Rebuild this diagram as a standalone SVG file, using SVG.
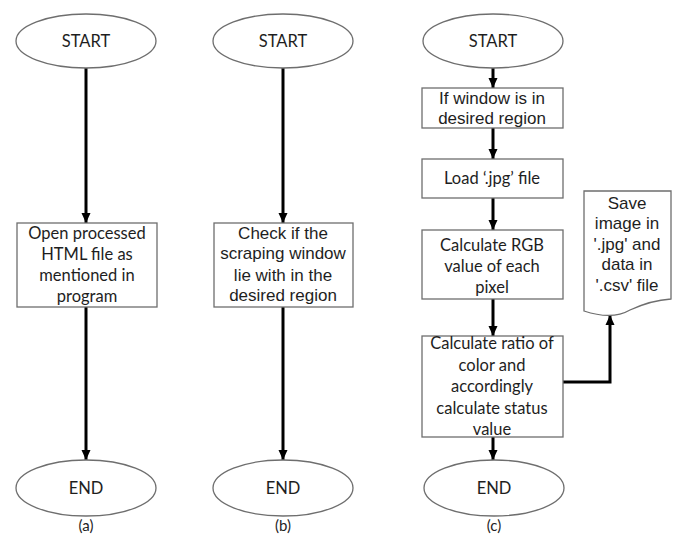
<svg xmlns="http://www.w3.org/2000/svg" width="676" height="536" viewBox="0 0 676 536">
<style>
.shape{fill:#fff;stroke:#6e6e6e;stroke-width:1.3}
.conn{fill:none;stroke:#000;stroke-width:3}
.t{font-family:Lato,"Open Sans",sans-serif;font-size:16.5px;fill:#1e1e1e;text-anchor:middle}
.ta{font-family:"Liberation Sans",Arial,sans-serif;font-size:17px;fill:#1e1e1e;text-anchor:middle}
.lab{font-family:Lato,"Open Sans",sans-serif;font-size:15px;fill:#1e1e1e;text-anchor:middle}
</style>
<defs>
<marker id="ah" markerUnits="userSpaceOnUse" markerWidth="10" markerHeight="10" viewBox="0 0 10 10" refX="10" refY="5" orient="auto">
<path d="M0,0.5 L10,5 L0,9.5 Z" fill="#000"/>
</marker>
</defs>
<rect width="676" height="536" fill="#fff"/>
<g id="connectors">
<line class="conn" x1="86" y1="68" x2="86" y2="223" marker-end="url(#ah)"/>
<line class="conn" x1="86" y1="307" x2="86" y2="460" marker-end="url(#ah)"/>
<line class="conn" x1="283" y1="68" x2="283" y2="223" marker-end="url(#ah)"/>
<line class="conn" x1="283" y1="307" x2="283" y2="460" marker-end="url(#ah)"/>
<line class="conn" x1="493" y1="68" x2="493" y2="88" marker-end="url(#ah)"/>
<line class="conn" x1="493" y1="128" x2="493" y2="159" marker-end="url(#ah)"/>
<line class="conn" x1="493" y1="198" x2="493" y2="230" marker-end="url(#ah)"/>
<line class="conn" x1="493" y1="299" x2="493" y2="336" marker-end="url(#ah)"/>
<line class="conn" x1="493" y1="437" x2="493" y2="460" marker-end="url(#ah)"/>
<polyline class="conn" points="563,382 610,382 610,315" marker-end="url(#ah)"/>
</g>
<g id="start-a"><ellipse class="shape" cx="86" cy="41" rx="70" ry="27"/><text class="t" x="86" y="47">START</text></g>
<g id="start-b"><ellipse class="shape" cx="283" cy="41" rx="70" ry="27"/><text class="t" x="283" y="47">START</text></g>
<g id="start-c"><ellipse class="shape" cx="493" cy="41" rx="70" ry="27"/><text class="t" x="493" y="47">START</text></g>
<g id="box-a"><rect class="shape" x="17" y="223" width="140" height="84"/>
<text class="t" x="87" y="239">Open processed</text>
<text class="t" x="87" y="260">HTML file as</text>
<text class="t" x="87" y="281">mentioned in</text>
<text class="t" x="87" y="302">program</text></g>
<g id="box-b"><rect class="shape" x="214" y="223" width="139" height="84"/>
<text class="ta" x="283" y="239">Check if the</text>
<text class="ta" x="283" y="259">scraping window</text>
<text class="ta" x="283" y="281">lie with in the</text>
<text class="ta" x="283" y="301">desired region</text></g>
<g id="box-c1"><rect class="shape" x="422" y="88" width="141" height="40"/>
<text class="ta" x="492" y="104">If window is in</text>
<text class="ta" x="492" y="124">desired region</text></g>
<g id="box-c2"><rect class="shape" x="422" y="159" width="141" height="39"/>
<text class="t" x="492" y="184">Load ‘.jpg’ file</text></g>
<g id="box-c3"><rect class="shape" x="422" y="230" width="141" height="69"/>
<text class="t" x="492" y="251">Calculate RGB</text>
<text class="t" x="492" y="272">value of each</text>
<text class="t" x="492" y="293">pixel</text></g>
<g id="box-c4"><rect class="shape" x="422" y="336" width="141" height="101"/>
<text class="t" x="492" y="349">Calculate ratio of</text>
<text class="t" x="492" y="371">color and</text>
<text class="t" x="492" y="392">accordingly</text>
<text class="t" x="492" y="414">calculate status</text>
<text class="t" x="492" y="435">value</text></g>
<g id="doc"><path class="shape" d="M584,191 H671 V299 C655,300 643,304 630,310 C618,317 602,317 584,311 Z"/>
<text class="ta" x="627" y="209">Save</text>
<text class="ta" x="627" y="229">image in</text>
<text class="ta" x="627" y="250">'.jpg' and</text>
<text class="ta" x="627" y="270">data in</text>
<text class="ta" x="627" y="291">'.csv' file</text></g>
<g id="end-a"><ellipse class="shape" cx="86" cy="488" rx="70" ry="28"/><text class="t" x="86" y="494">END</text></g>
<g id="end-b"><ellipse class="shape" cx="283" cy="488" rx="70" ry="28"/><text class="t" x="283" y="494">END</text></g>
<g id="end-c"><ellipse class="shape" cx="494" cy="488" rx="70" ry="28"/><text class="t" x="494" y="494">END</text></g>
<text class="lab" x="86" y="531">(a)</text>
<text class="lab" x="283" y="531">(b)</text>
<text class="lab" x="494" y="531">(c)</text>
</svg>
